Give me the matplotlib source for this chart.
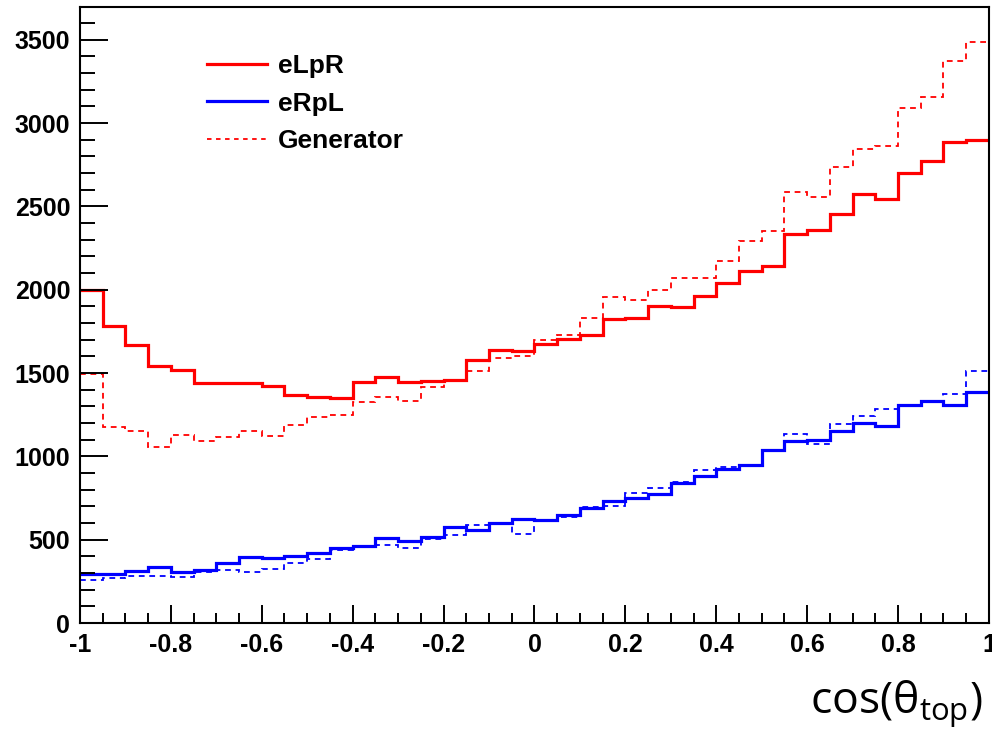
import matplotlib
matplotlib.use("Agg")
import matplotlib.pyplot as plt
import matplotlib.ticker as mticker
from matplotlib.lines import Line2D
import numpy as np

# 40 bins of cos(theta_top) from -1 to 1
bin_edges = np.linspace(-1, 1, 41)

eLpR = [2000, 1782, 1666, 1545, 1516, 1440, 1440, 1440, 1424, 1369,
        1359, 1349, 1446, 1476, 1448, 1455, 1460, 1581, 1641, 1631,
        1676, 1702, 1726, 1823, 1833, 1900, 1894, 1962, 2039, 2115,
        2145, 2337, 2357, 2452, 2573, 2545, 2700, 2771, 2888, 2898]
eLpR_gen = [1494, 1177, 1155, 1056, 1127, 1093, 1117, 1155, 1125, 1188,
            1238, 1246, 1327, 1355, 1333, 1419, 1452, 1510, 1591, 1601,
            1698, 1726, 1829, 1954, 1938, 1998, 2073, 2073, 2172, 2293,
            2351, 2589, 2559, 2735, 2845, 2865, 3093, 3158, 3370, 3487]
eRpL = [296, 296, 314, 339, 304, 320, 363, 399, 389, 401,
        421, 448, 460, 510, 492, 518, 577, 557, 599, 627,
        619, 649, 693, 734, 748, 774, 840, 885, 926, 946,
        1041, 1093, 1101, 1151, 1202, 1182, 1309, 1335, 1309, 1385]
eRpL_gen = [256, 268, 284, 284, 276, 308, 316, 304, 327, 359,
            385, 437, 460, 467, 451, 506, 526, 589, 597, 532,
            613, 637, 699, 704, 780, 808, 845, 920, 935, 950,
            1041, 1133, 1077, 1194, 1242, 1283, 1309, 1335, 1375, 1510]

legend_labels = ['eLpR', 'eRpL', 'Generator']

plt.rcParams['font.family'] = ['Liberation Sans', 'DejaVu Sans']
plt.rcParams['font.weight'] = 'bold'
# x title is in a plain (non-bold) font
plt.rcParams['mathtext.fontset'] = 'custom'
plt.rcParams['mathtext.rm'] = 'Open Sans:weight=normal'
plt.rcParams['mathtext.it'] = 'Open Sans:weight=normal'

fig = plt.figure(figsize=(9.92, 7.33), dpi=100)
ax = fig.add_axes([0.0806, 0.150, 0.9163, 0.8404])

dash = (0, (3.2, 2.6))
ax.stairs(eRpL_gen, bin_edges, baseline=None, color='#0000ff', lw=1.3, linestyle=dash)
ax.stairs(eLpR_gen, bin_edges, baseline=None, color='#ff0000', lw=1.3, linestyle=dash)
ax.stairs(eLpR, bin_edges, baseline=None, color='#ff0000', lw=2.3)
ax.stairs(eRpL, bin_edges, baseline=None, color='#0000ff', lw=2.3)

ax.set_xlim(-1, 1)
ax.set_ylim(0, 3696)

ax.xaxis.set_major_locator(mticker.MultipleLocator(0.2))
ax.xaxis.set_minor_locator(mticker.MultipleLocator(0.05))
ax.yaxis.set_major_locator(mticker.MultipleLocator(500))
ax.yaxis.set_minor_locator(mticker.MultipleLocator(100))
ax.xaxis.set_major_formatter(mticker.FuncFormatter(lambda v, pos: f'{v:g}' if abs(v) > 1e-9 else '0'))

ax.tick_params(which='both', direction='in', width=1.4, colors='black', labelsize=18)
ax.tick_params(axis='y', which='major', length=20, pad=7)
ax.tick_params(axis='y', which='minor', length=11)
ax.tick_params(axis='x', which='major', length=13, pad=7)
ax.tick_params(axis='x', which='minor', length=7)
for spine in ax.spines.values():
    spine.set_linewidth(1.5)

handles = [Line2D([], [], color='#ff0000', lw=2.3),
           Line2D([], [], color='#0000ff', lw=2.3),
           Line2D([], [], color='#ff0000', lw=1.3, linestyle=(0, (2.5, 2.5)))]
ax.legend(handles, legend_labels, loc='upper left', bbox_to_anchor=(0.14, 0.923),
          frameon=False, fontsize=19, handlelength=2.27, handletextpad=0.42,
          labelspacing=0.5, borderpad=0, borderaxespad=0)

fig.text(983 / 992, 1 - 713 / 733, r'$\mathrm{cos(θ_{top})}$', ha='right', va='baseline',
         fontsize=32, fontweight='normal')

fig.savefig('out.png', dpi=100, facecolor='white')
